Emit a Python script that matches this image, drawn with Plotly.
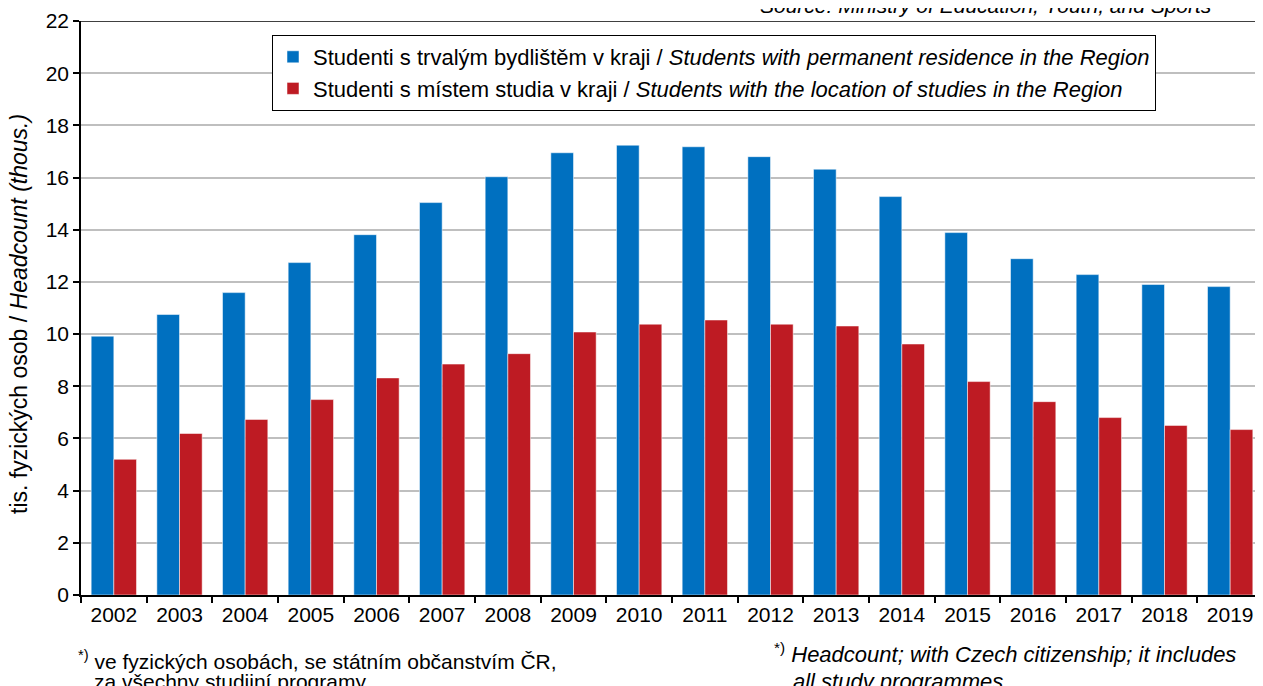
import plotly.graph_objects as go

years = ["2002", "2003", "2004", "2005", "2006", "2007", "2008", "2009", "2010",
         "2011", "2012", "2013", "2014", "2015", "2016", "2017", "2018", "2019"]
residence = [9.92, 10.75, 11.59, 12.74, 13.81, 15.04, 16.03, 16.95, 17.24,
             17.18, 16.80, 16.32, 15.27, 13.89, 12.89, 12.28, 11.90, 11.82]
location = [5.20, 6.19, 6.73, 7.49, 8.32, 8.85, 9.25, 10.08, 10.38,
            10.54, 10.38, 10.31, 9.62, 8.18, 7.41, 6.80, 6.50, 6.34]

name_res = "Studenti s trvalým bydlištěm v kraji / <i>Students with permanent residence in the Region</i>"
name_loc = "Studenti s místem studia v kraji / <i>Students with the location of studies in the Region</i>"
y_title = "tis. fyzických osob / <i>Headcount (thous.)</i>"
source = "<i>Source: Ministry of Education, Youth, and Sports</i>"
note_cz_1 = "<sup>*)</sup> ve fyzických osobách, se státním občanstvím ČR,"
note_cz_2 = "za všechny studijní programy"
note_en_1 = "<sup>*)</sup> <i>Headcount; with Czech citizenship; it includes</i>"
note_en_2 = "<i>all study programmes.</i>"

FONT = "Liberation Sans, Arial, sans-serif"
BLUE = "#0070C0"
RED = "#BE1B23"

# the page body adds an 8px offset; figure sized to compensate
OFF = 8
W, H = 1263 - OFF, 686 - OFF
L, R, T, B = 81 - OFF, 0, 21 - OFF, 91
PW, PH = W - L - R, H - T - B


def px_x(px):
    # screen pixel -> paper x
    return (px - OFF - L) / PW


def px_y(py):
    # screen pixel -> paper y
    return (H - B - (py - OFF)) / PH


fig = go.Figure()
fig.add_trace(go.Bar(x=years, y=residence, name=name_res,
                     marker=dict(color=BLUE, line=dict(color="rgba(255,255,255,0.5)", width=1))))
fig.add_trace(go.Bar(x=years, y=location, name=name_loc,
                     marker=dict(color=RED, line=dict(color="rgba(255,255,255,0.5)", width=1))))

fig.update_layout(
    width=W, height=H,
    margin=dict(l=L, r=R, t=T, b=B, autoexpand=False),
    paper_bgcolor="white", plot_bgcolor="white",
    font=dict(family=FONT, size=21, color="black"),
    barmode="group", bargap=0.31, bargroupgap=0,
    showlegend=True,
    legend=dict(x=px_x(272), y=px_y(35), xanchor="left", yanchor="top",
                bordercolor="black", borderwidth=1, bgcolor="white",
                font=dict(family=FONT, size=22), tracegroupgap=0,
                itemwidth=30),
)
fig.update_xaxes(
    automargin=False,
    showline=True, linecolor="black", linewidth=1.5,
    ticks="outside", tickson="boundaries", ticklen=6, tickcolor="black", tickwidth=1.5,
    tickfont=dict(family=FONT, size=21), showgrid=False,
)
fig.update_yaxes(
    automargin=False,
    range=[0, 22], dtick=2, tick0=0,
    showline=True, linecolor="black", linewidth=1.5,
    ticks="outside", ticklen=6, tickcolor="black", tickwidth=1.5,
    tickfont=dict(family=FONT, size=21),
    showgrid=True, gridcolor="#BFBFBF", gridwidth=1.5, zeroline=False,
)

fig.add_shape(type="line", xref="paper", yref="y", x0=0, x1=1, y0=22, y1=22,
              line=dict(color="black", width=1.5), layer="above")

ann = dict(showarrow=False, xref="paper", yref="paper")
fig.add_annotation(text=y_title, x=px_x(19), y=px_y(314), xanchor="center", yanchor="middle",
                   textangle=-90, font=dict(family=FONT, size=23, color="black"), **ann)
fig.add_annotation(text=source, x=px_x(1214), y=px_y(19), xanchor="right", yanchor="bottom",
                   font=dict(family=FONT, size=21, color="black"), **ann)
fig.add_annotation(text=note_cz_1, x=px_x(76), y=px_y(645), xanchor="left", yanchor="top",
                   font=dict(family=FONT, size=21, color="black"), **ann)
fig.add_annotation(text=note_cz_2, x=px_x(92), y=px_y(668), xanchor="left", yanchor="top",
                   font=dict(family=FONT, size=21, color="black"), **ann)
fig.add_annotation(text=note_en_1, x=px_x(772), y=px_y(637), xanchor="left", yanchor="top",
                   font=dict(family=FONT, size=22, color="black"), **ann)
fig.add_annotation(text=note_en_2, x=px_x(791), y=px_y(667), xanchor="left", yanchor="top",
                   font=dict(family=FONT, size=22, color="black"), **ann)

fig.write_html("out.html")
